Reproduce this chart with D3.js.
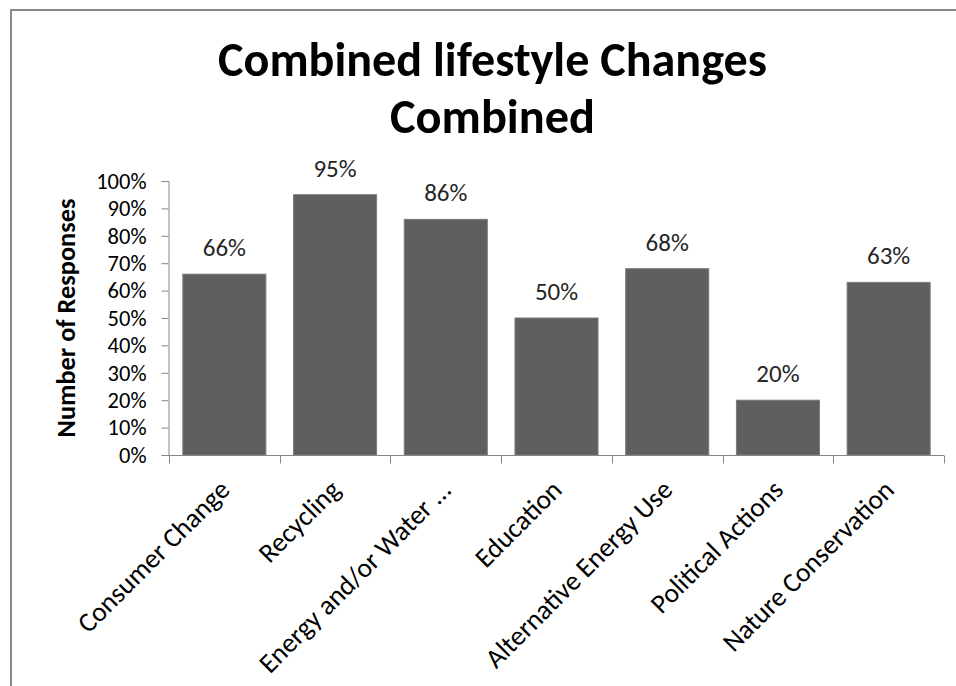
<!DOCTYPE html>
<html>
<head>
<meta charset="utf-8">
<script src="https://cdn.jsdelivr.net/npm/d3@7"></script>
<style>
  html, body { margin: 0; padding: 0; background: #fff; }
  svg { display: block; }
  text { font-family: Carlito, Lato, "Open Sans", sans-serif; fill: #000; }
</style>
</head>
<body>
<svg id="chart" width="956" height="686"></svg>
<script>
// Survey results: share of respondents per lifestyle-change category
const categories = [
  "Consumer Change",
  "Recycling",
  "Energy and/or Water ...",
  "Education",
  "Alternative Energy Use",
  "Political Actions",
  "Nature Conservation"
];
const values = [66, 95, 86, 50, 68, 20, 63];
const yTicks = [0, 10, 20, 30, 40, 50, 60, 70, 80, 90, 100];
const titleLines = ["Combined lifestyle Changes", "Combined"];
const yTitle = "Number of Responses";

const svg = d3.select("#chart");
const axisColor = "#868686";
const barColor = "#5f5f5f";
const fontStack = "Carlito, Lato, 'Open Sans', sans-serif";

// Scale a text element's font so its rendered length equals a given width
function fitWidth(sel, target) {
  sel.each(function () {
    const fs = parseFloat(getComputedStyle(this).fontSize);
    const w = this.getComputedTextLength();
    if (w > 0) d3.select(this).style("font-size", (fs * target / w) + "px");
  });
}

// Chart frame (only its top and left edges fall inside the view)
svg.append("rect")
  .attr("x", 11).attr("y", 10)
  .attr("width", 1000).attr("height", 1000)
  .attr("fill", "none")
  .attr("stroke", "#898989")
  .attr("stroke-width", 2);

const x = d3.scaleBand()
  .domain(categories)
  .range([169, 944])
  .paddingInner(0.25)
  .paddingOuter(0.125);

const y = d3.scaleLinear().domain([0, 100]).range([455, 181]);

// Title
const title = svg.append("g");
const titleSizes = [549, 205];
titleLines.forEach((t, i) => {
  const el = title.append("text")
    .attr("x", 492.5)
    .attr("y", 76 + i * 57)
    .attr("text-anchor", "middle")
    .style("font-weight", "bold")
    .style("font-size", "44px")
    .text(t);
  fitWidth(el, titleSizes[i]);
});

// Y axis
const yAxis = svg.append("g")
  .attr("transform", "translate(168.5,0)")
  .call(d3.axisLeft(y)
    .tickValues(yTicks)
    .tickSize(7)
    .tickPadding(15)
    .tickFormat(d => d + "%"));
yAxis.select(".domain").attr("stroke", axisColor);
yAxis.selectAll(".tick line").attr("stroke", axisColor);
yAxis.selectAll(".tick text")
  .attr("fill", "#000")
  .style("font-family", fontStack)
  .style("font-size", "22.5px");

// Y axis title
const yT = svg.append("text")
  .attr("transform", "translate(75,318) rotate(-90)")
  .attr("text-anchor", "middle")
  .style("font-weight", "bold")
  .style("font-size", "22px")
  .text(yTitle);
fitWidth(yT, 239);

// Bars
svg.append("g").selectAll("rect")
  .data(values)
  .join("rect")
  .attr("x", (d, i) => x(categories[i]))
  .attr("y", d => y(d))
  .attr("width", x.bandwidth())
  .attr("height", d => y(0) - y(d))
  .attr("fill", barColor)
  .attr("stroke", "#7a7a7a")
  .attr("stroke-width", 1);

// Value labels
svg.append("g").selectAll("text")
  .data(values)
  .join("text")
  .attr("x", (d, i) => x(categories[i]) + x.bandwidth() / 2)
  .attr("y", d => y(d) - 18)
  .attr("text-anchor", "middle")
  .style("font-size", "25px")
  .style("fill", "#262626")
  .text(d => d + "%");

// X axis with ticks on category boundaries
const xAxis = svg.append("g")
  .attr("transform", `translate(0,${y(0) + 0.5})`)
  .call(d3.axisBottom(x).tickSize(0).tickPadding(0));
xAxis.select(".domain").attr("stroke", axisColor).attr("d", `M${x.range()[0]},0H${x.range()[1]}`);
const bounds = d3.range(categories.length + 1).map(i => x.range()[0] + i * x.step());
xAxis.selectAll(".bound")
  .data(bounds)
  .join("line")
  .attr("class", "bound")
  .attr("x1", d => Math.round(d) + 0.5).attr("x2", d => Math.round(d) + 0.5)
  .attr("y1", 0).attr("y2", 8)
  .attr("stroke", axisColor);

const catLabels = xAxis.selectAll(".tick text")
  .attr("fill", "#000")
  .attr("x", 0).attr("y", 0).attr("dy", null)
  .attr("text-anchor", "end")
  .attr("transform", "translate(7,36) rotate(-45)")
  .style("font-family", fontStack)
  .style("font-size", "21px");
fitWidth(xAxis.selectAll(".tick").filter(d => d === "Consumer Change").select("text"), 202);
const catFont = xAxis.selectAll(".tick").filter(d => d === "Consumer Change").select("text").style("font-size");
catLabels.style("font-size", catFont);
</script>
</body>
</html>
